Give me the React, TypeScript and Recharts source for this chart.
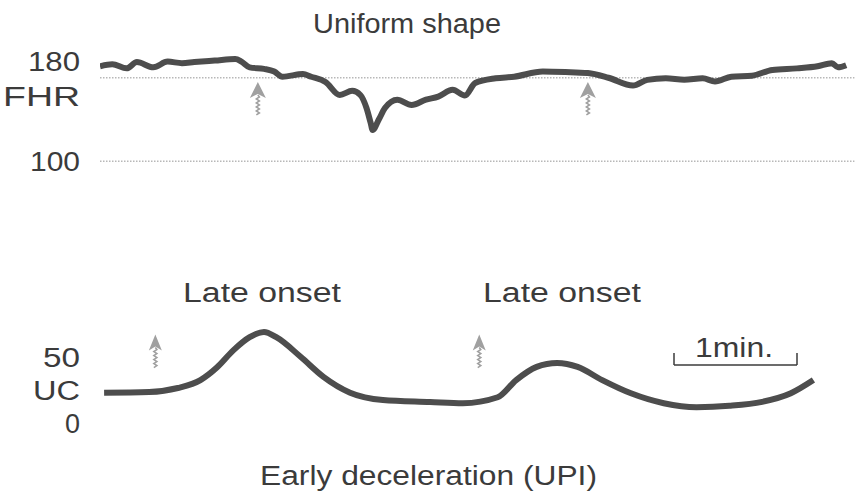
import React from 'react';
import { ComposedChart, Line, XAxis, YAxis, ReferenceLine, ReferenceDot } from 'recharts';

// time in seconds (1 min = 60 s)
const fhrTime = [0, 6, 13, 18, 26, 33, 40, 46, 56, 66, 69, 73, 80, 85, 89, 99, 103, 110, 117, 123, 127, 130, 132, 133, 136, 139, 145, 152, 159, 165, 172, 178, 183, 193, 202, 216, 227, 238, 248, 260, 267, 276, 285, 294, 300, 308, 318, 328, 340, 350, 357, 360, 364];
const fhrBpm = [191, 193, 189, 195, 190, 195.5, 194, 195, 196.5, 198, 195.5, 190, 188.5, 186, 181, 183.5, 181, 176, 163.5, 167.5, 163.5, 151, 137, 130, 140, 151, 159, 154, 159, 162, 168.5, 163, 175, 179.5, 181, 186, 185.5, 184.5, 180, 172.5, 178, 179.5, 178, 179.5, 176.5, 181, 182, 187.5, 189, 191, 194, 190, 192];

const ucTime = [2, 24, 38, 49, 57, 65, 73, 80, 86, 98, 109, 122, 138, 161, 177, 194, 203, 213, 223, 233, 245, 259, 275, 291, 307, 323, 337, 348];
const ucValue = [23, 23.5, 26.5, 32.5, 42, 55, 65, 69, 65, 50, 35, 23, 17.5, 16, 15, 19.5, 32.5, 42.5, 45.5, 42.5, 32.5, 22.5, 15, 12, 13, 16, 22.5, 32.5];

const fhrArrowTime = [77, 238];
const fhrArrowTip = 176;
const ucArrowTime = [27, 185];
const ucArrowTip = 67;

const fhrTicks = [100, 180];
const ucTicks = [0, 25, 50];
const ucTickLabels: Record<number, string> = { 0: '0', 25: 'UC', 50: '50' };

const fhrData = fhrTime.map((t, i) => ({ t, bpm: fhrBpm[i] }));
const ucData = ucTime.map((t, i) => ({ t, uc: ucValue[i] }));

const FONT = '"Liberation Sans", Arial, Helvetica, sans-serif';
const INK = '#3b3b3b';
const TRACE = '#4d4d4d';
const ARROW = '#a0a0a0';

// the scanned lettering is wide, so stretch text to its measured width
const Stretch = ({ x, y, w, anchor = 'start', children }: any) => (
  <text
    x={x}
    y={y}
    textLength={w}
    lengthAdjust="spacingAndGlyphs"
    textAnchor={anchor}
    fontFamily={FONT}
    fontSize={27}
    fill={INK}
  >
    {children}
  </text>
);

const FhrTick = ({ y, payload }: any) =>
  payload.value === 180 ? (
    <g>
      <Stretch x={80} y={y - 6.5} w={52} anchor="end">180</Stretch>
      <Stretch x={80} y={y + 28.5} w={77} anchor="end">FHR</Stretch>
    </g>
  ) : (
    <Stretch x={80} y={y + 9.5} w={50} anchor="end">{String(payload.value)}</Stretch>
  );

const ucWidths: Record<number, number> = { 0: 15, 25: 47, 50: 37 };
const UcTick = ({ y, payload }: any) => (
  <Stretch x={80} y={y + 10} w={ucWidths[payload.value]} anchor="end">
    {ucTickLabels[payload.value]}
  </Stretch>
);

const arrow = (headW: number) => (props: any) => {
  const { cx, cy } = props;
  const h = headW / 2;
  let shaft = `M${cx},${cy + 13}`;
  for (let k = 1; k <= 10; k++) shaft += ` L${cx + (k % 2 ? 1.5 : -1.5)},${cy + 13 + k * 2}`;
  return (
    <g>
      <path d={`M${cx},${cy} L${cx + h},${cy + 16} L${cx},${cy + 12} L${cx - h},${cy + 16} Z`} fill={ARROW} />
      <path d={shaft} stroke={ARROW} strokeWidth={1.6} fill="none" />
    </g>
  );
};

const App = () => {
  return (
    <div style={{ position: 'absolute', left: 0, top: 0, width: 856, height: 496, background: '#fff' }}>
      <div style={{ position: 'absolute', left: 0, top: 0 }}>
        <ComposedChart width={856} height={200} data={fhrData} margin={{ top: 36, right: 1.6, bottom: 17.8, left: 0 }}>
          <XAxis type="number" dataKey="t" domain={[0, 368]} hide allowDataOverflow />
          <YAxis
            width={100}
            domain={[80, 220]}
            ticks={fhrTicks}
            interval={0}
            axisLine={false}
            tickLine={false}
            tick={(p: any) => <FhrTick {...p} />}
          />
          <ReferenceLine y={180} stroke="#b8b8b8" strokeWidth={1.5} strokeDasharray="1.5 1.5" />
          <ReferenceLine y={100} stroke="#b8b8b8" strokeWidth={1.5} strokeDasharray="1.5 1.5" />
          <Line
            type="monotone"
            dataKey="bpm"
            stroke={TRACE}
            strokeWidth={6}
            strokeLinejoin="round"
            dot={false}
            isAnimationActive={false}
          />
          {fhrArrowTime.map((t) => (
            <ReferenceDot key={t} x={t} y={fhrArrowTip} r={0} ifOverflow="visible" shape={arrow(16)} />
          ))}
        </ComposedChart>
      </div>
      <div style={{ position: 'absolute', left: 0, top: 300 }}>
        <ComposedChart width={856} height={140} data={ucData} margin={{ top: 17.4, right: 1.6, bottom: 17, left: 0 }}>
          <XAxis type="number" dataKey="t" domain={[0, 368]} hide allowDataOverflow />
          <YAxis
            width={100}
            domain={[0, 80]}
            ticks={ucTicks}
            interval={0}
            axisLine={false}
            tickLine={false}
            tick={(p: any) => <UcTick {...p} />}
          />
          <Line
            type="monotone"
            dataKey="uc"
            stroke={TRACE}
            strokeWidth={6}
            dot={false}
            isAnimationActive={false}
          />
          {ucArrowTime.map((t) => (
            <ReferenceDot key={t} x={t} y={ucArrowTip} r={0} ifOverflow="visible" shape={arrow(13)} />
          ))}
          <ReferenceLine segment={[{ x: 280, y: 44 }, { x: 340, y: 44 }]} stroke={INK} strokeWidth={1.5} />
          <ReferenceLine segment={[{ x: 280, y: 44 }, { x: 280, y: 53 }]} stroke={INK} strokeWidth={1.5} />
          <ReferenceLine segment={[{ x: 340, y: 44 }, { x: 340, y: 53 }]} stroke={INK} strokeWidth={1.5} />
        </ComposedChart>
      </div>
      <svg width={856} height={496} style={{ position: 'absolute', left: 0, top: 0, pointerEvents: 'none' }}>
        <Stretch x={313} y={33} w={188}>Uniform shape</Stretch>
        <Stretch x={183} y={302} w={158}>Late onset</Stretch>
        <Stretch x={483} y={302} w={158}>Late onset</Stretch>
        <Stretch x={695} y={357} w={78}>1min.</Stretch>
        <Stretch x={260} y={485} w={337}>Early deceleration (UPI)</Stretch>
      </svg>
    </div>
  );
};

export default App;
